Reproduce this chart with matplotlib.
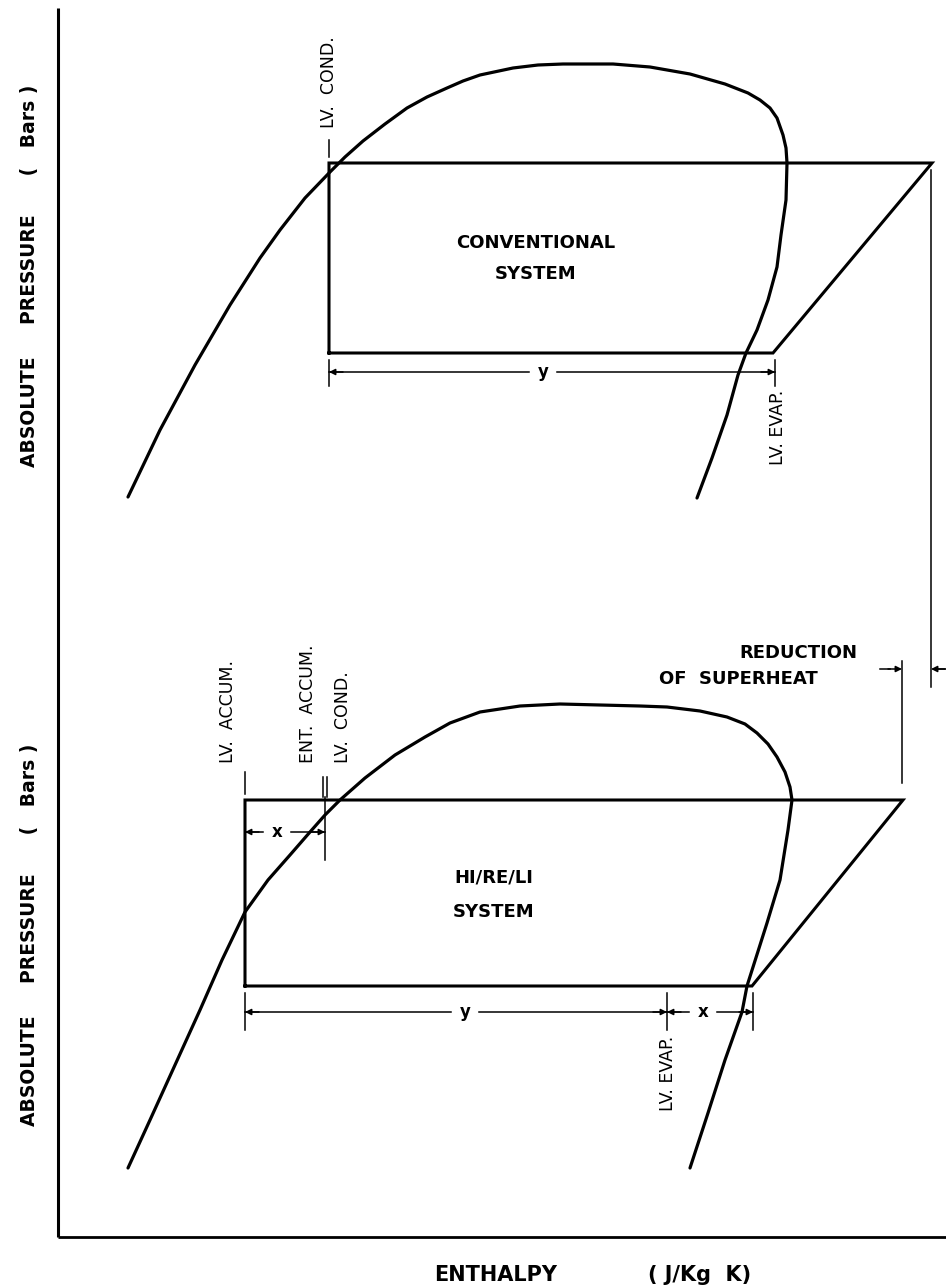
import matplotlib.pyplot as plt

# === data read off the picture (pixel units, y measured from the top) ===
# saturation dome, conventional system (upper chart)
dome_top_h = [128, 160, 195, 230, 260, 280, 305, 330, 345, 363, 385, 407, 427, 447, 463,
              480, 513, 538, 563, 613, 650, 690, 725, 748, 760, 770, 777, 783, 786, 787,
              786, 781, 777, 768, 757, 746, 738, 727, 712, 697]
dome_top_p = [497, 430, 365, 305, 258, 230, 198, 172, 157, 141, 124, 108, 97, 88, 81,
              75, 68, 65, 64, 64, 67, 74, 84, 93, 100, 108, 118, 135, 148, 163,
              200, 235, 267, 300, 330, 353, 375, 415, 458, 498]

# saturation dome, HI/RE/LI system (lower chart)
dome_bot_h = [128, 150, 175, 200, 222, 245, 268, 290, 310, 325, 340, 365, 395, 425, 450,
              480, 520, 560, 600, 640, 667, 700, 727, 745, 757, 768, 777, 785, 790, 792,
              788, 780, 767, 747, 742, 725, 708, 690]
dome_bot_p = [1168, 1120, 1065, 1010, 960, 912, 880, 855, 832, 815, 800, 778, 755, 737, 723,
              712, 706, 704, 705, 706, 707, 711, 717, 724, 733, 744, 757, 772, 787, 800,
              830, 880, 923, 986, 1012, 1060, 1113, 1168]

# refrigeration cycles (corners)
conv_h = [329, 329, 932, 773, 329]
conv_p = [353, 163, 163, 353, 353]
hrl_h = [245, 245, 903, 752, 245]
hrl_p = [986, 800, 800, 986, 986]

# dimension lines: start, end, level, label, label position
dims = [
    (329, 775, 372, "y", 543),
    (245, 325, 832, "x", 277),
    (245, 667, 1012, "y", 465),
    (667, 753, 1012, "x", 703),
]

fig = plt.figure(figsize=(9.46, 12.86), dpi=100)
ax = fig.add_axes([0, 0, 1, 1])
ax.set_xlim(0, 946)
ax.set_ylim(1286, 0)
ax.axis("off")

k = "black"

# === axes of the diagram
ax.plot([58, 58], [8, 1237], color=k, lw=2.2, solid_capstyle="butt")
ax.plot([58, 946], [1237, 1237], color=k, lw=2.0, solid_capstyle="butt")

# === domes and cycles
ax.plot(dome_top_h, dome_top_p, color=k, lw=2.3, solid_capstyle="round", solid_joinstyle="round")
ax.plot(dome_bot_h, dome_bot_p, color=k, lw=2.3, solid_capstyle="round", solid_joinstyle="round")
ax.plot(conv_h, conv_p, color=k, lw=2.2, solid_joinstyle="miter")
ax.plot(hrl_h, hrl_p, color=k, lw=2.2, solid_joinstyle="miter")

# === small ticks / leader lines
ticks = [
    (329, 140, 157),
    (329, 360, 386), (775, 360, 386),
    (245, 772, 794), (323, 777, 797), (327, 777, 797), (325, 797, 860),
    (245, 993, 1030), (667, 993, 1030), (753, 993, 1030),
    (931, 170, 687), (902, 661, 783),
]
for x, y0, y1 in ticks:
    ax.plot([x, x], [y0, y1], color=k, lw=1.1)


def arrow_head(tip_x, y, direction):
    ax.annotate("", xy=(tip_x, y), xytext=(tip_x - direction * 14, y),
                arrowprops=dict(arrowstyle="-|>", color=k, lw=1.1,
                                mutation_scale=9, shrinkA=0, shrinkB=0))


for x0, x1, y, lab, lx in dims:
    gap = 14
    ax.plot([x0, lx - gap], [y, y], color=k, lw=1.1)
    ax.plot([lx + gap, x1], [y, y], color=k, lw=1.1)
    arrow_head(x0, y, -1)
    arrow_head(x1, y, 1)
    ax.text(lx, y, lab, ha="center", va="center", fontsize=12, fontweight="bold")

# superheat arrows
arrow_head(902, 669, 1)
ax.plot([880, 890], [669, 669], color=k, lw=1.1)
arrow_head(931, 669, -1)
ax.plot([936, 946], [669, 669], color=k, lw=1.1)

# === labels
lab_kw = dict(fontsize=12.5, rotation=90, ha="center")
ax.text(329, 128, "LV.  COND.", va="bottom", **lab_kw)
ax.text(778, 390, "LV. EVAP.", va="top", **lab_kw)
ax.text(228, 763, "LV.  ACCUM.", va="bottom", **lab_kw)
ax.text(308, 763, "ENT.  ACCUM.", va="bottom", **lab_kw)
ax.text(343, 763, "LV.  COND.", va="bottom", **lab_kw)
ax.text(668, 1036, "LV. EVAP.", va="top", **lab_kw)

box_kw = dict(fontsize=13, fontweight="bold", ha="center", va="center")
ax.text(536, 243, "CONVENTIONAL", **box_kw)
ax.text(536, 274, "SYSTEM", **box_kw)
ax.text(494, 878, "HI/RE/LI", **box_kw)
ax.text(494, 912, "SYSTEM", **box_kw)
ax.text(798, 653, "REDUCTION", **box_kw)
ax.text(738, 679, "OF  SUPERHEAT", **box_kw)

ylab = "ABSOLUTE     PRESSURE      (   Bars )"
ax.text(30, 276, ylab, rotation=90, ha="center", va="center", fontsize=13.5, fontweight="bold")
ax.text(30, 935, ylab, rotation=90, ha="center", va="center", fontsize=13.5, fontweight="bold")

ax.text(496, 1275, "ENTHALPY", ha="center", va="center", fontsize=15, fontweight="bold")
ax.text(700, 1275, "( J/Kg  K)", ha="center", va="center", fontsize=15, fontweight="bold")

plt.savefig("out.png", dpi=100)
plt.close()
